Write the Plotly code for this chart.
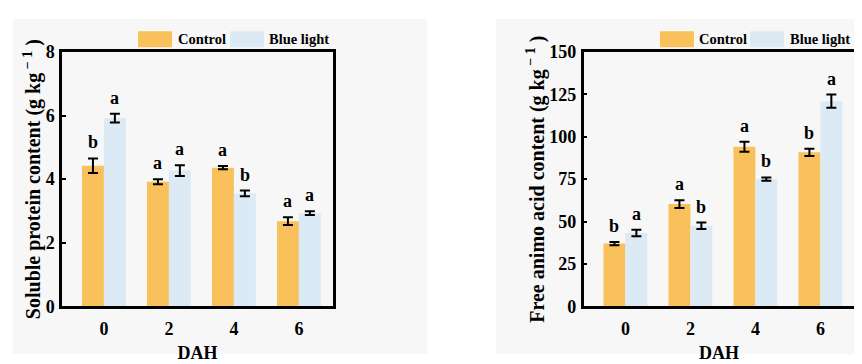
import plotly.graph_objects as go

# ---- data ----
dah = [0, 2, 4, 6]
dah_labels = ["0", "2", "4", "6"]

protein_control = [4.42, 3.92, 4.36, 2.68]
protein_control_err = [0.23, 0.08, 0.05, 0.12]
protein_blue = [5.92, 4.27, 3.55, 2.93]
protein_blue_err = [0.14, 0.17, 0.09, 0.06]
protein_letters_control = ["b", "a", "a", "a"]
protein_letters_blue = ["a", "a", "b", "a"]

amino_control = [37.0, 60.3, 94.1, 90.8]
amino_control_err = [1.0, 2.3, 2.9, 2.2]
amino_blue = [43.3, 47.5, 75.0, 121.0]
amino_blue_err = [1.9, 1.9, 1.0, 3.9]
amino_letters_control = ["b", "a", "a", "b"]
amino_letters_blue = ["a", "b", "b", "a"]

series_names = ["Control", "Blue light"]
protein_ticks = [0, 2, 4, 6, 8]
amino_ticks = [0, 25, 50, 75, 100, 125, 150]

# ---- style ----
OFF = 8  # page body margin
W, H = 862 - OFF, 364 - OFF
FONT = "Liberation Serif, Times New Roman, serif"
C_CTRL = "#F8C15C"
C_BLUE = "#DBEAF4"
BARGAP = 0.325
HALF = (1 - BARGAP) * 2 / 4  # half bar offset in x units

def px(x):
    return (x - OFF) / W

def py(y):
    return 1 - (y - OFF) / H

fig = go.Figure()

def add_panel(xa, ya, ctrl, ctrl_err, blue, blue_err):
    fig.add_trace(go.Bar(x=dah, y=ctrl, name=series_names[0], marker=dict(color=C_CTRL, line=dict(width=0)),
                         error_y=dict(type="data", array=ctrl_err, color="black", thickness=2, width=5),
                         xaxis=xa, yaxis=ya, showlegend=False))
    fig.add_trace(go.Bar(x=dah, y=blue, name=series_names[1], marker=dict(color=C_BLUE, line=dict(width=0)),
                         error_y=dict(type="data", array=blue_err, color="black", thickness=2, width=5),
                         xaxis=xa, yaxis=ya, showlegend=False))

add_panel("x", "y", protein_control, protein_control_err, protein_blue, protein_blue_err)
add_panel("x2", "y2", amino_control, amino_control_err, amino_blue, amino_blue_err)

annotations = []
def add_letters(xref, yref, vals, errs, letters, sign):
    for d, v, e, t in zip(dah, vals, errs, letters):
        annotations.append(dict(x=d + sign * HALF, y=v + e, xref=xref, yref=yref, text=t, showarrow=False,
                                yanchor="bottom", xanchor="center", yshift=4,
                                font=dict(family=FONT, size=18, color="black", weight="bold")))

add_letters("x", "y", protein_control, protein_control_err, protein_letters_control, -1)
add_letters("x", "y", protein_blue, protein_blue_err, protein_letters_blue, 1)
add_letters("x2", "y2", amino_control, amino_control_err, amino_letters_control, -1)
add_letters("x2", "y2", amino_blue, amino_blue_err, amino_letters_blue, 1)

# legends drawn as patches + text
shapes = []
shapes.append(dict(type="rect", xref="paper", yref="paper", x0=px(13), x1=px(427), y0=py(364), y1=py(9),
                   fillcolor="#F7F7F7", line=dict(width=0), layer="below"))
shapes.append(dict(type="rect", xref="paper", yref="paper", x0=px(496), x1=px(862), y0=py(364), y1=py(9),
                   fillcolor="#F7F7F7", line=dict(width=0), layer="below"))

def legend(x_ctrl, x_ctrl_txt, x_blue, x_blue_txt):
    for (x0, col) in [(x_ctrl, C_CTRL), (x_blue, C_BLUE)]:
        shapes.append(dict(type="rect", xref="paper", yref="paper", x0=px(x0), x1=px(x0 + 34),
                           y0=py(39), y1=py(22), fillcolor=col, line=dict(width=0)))
    for (xt, name) in [(x_ctrl_txt, series_names[0]), (x_blue_txt, series_names[1])]:
        annotations.append(dict(x=px(xt), y=py(30.5), xref="paper", yref="paper", text=name, showarrow=False,
                                xanchor="left", yanchor="middle",
                                font=dict(family=FONT, size=14.5, color="black", weight="bold")))

legend(138, 176, 230, 267)
legend(660, 697, 750, 788)

tickfont = dict(family=FONT, size=18, color="black", weight="bold")
titlefont = dict(family=FONT, size=20, color="black", weight="bold")

common_x = dict(tickmode="array", tickvals=dah, ticktext=dah_labels, range=[-1.29, 7.05],
                showline=True, mirror=True, linecolor="black", linewidth=2.5,
                ticks="outside", ticklen=4, tickcolor="rgba(0,0,0,0)",
                tickfont=tickfont, showgrid=False, zeroline=False,
                title=dict(text="DAH", font=dict(family=FONT, size=18, color="black", weight="bold"), standoff=9))
common_y = dict(showline=True, mirror=True, linecolor="black", linewidth=2.5, ticks="inside", ticklen=4,
                tickwidth=2, tickcolor="black", tickfont=tickfont, showgrid=False, zeroline=False,
                tickmode="array", ticklabelstandoff=1)

ydom = [py(313.5), py(44)]
fig.update_layout(
    width=W, height=H, margin=dict(l=0, r=0, t=0, b=0),
    paper_bgcolor="white", plot_bgcolor="rgba(0,0,0,0)",
    barmode="group", bargap=BARGAP, bargroupgap=0,
    xaxis=dict(domain=[px(62), px(333)], anchor="y", **common_x),
    yaxis=dict(domain=ydom, anchor="x", range=[0, 8], tickvals=protein_ticks,
               title=dict(text="Soluble protein content (g kg<sup> − 1</sup> )", font=titlefont, standoff=0),
               **common_y),
    xaxis2=dict(domain=[px(583.5), px(854.5)], anchor="y2", **common_x),
    yaxis2=dict(domain=ydom, anchor="x2", range=[0, 150], tickvals=amino_ticks,
                title=dict(text="Free animo acid content (g kg<sup> − 1</sup> )", font=titlefont, standoff=0),
                **common_y),
    annotations=annotations, shapes=shapes,
)

fig.write_html("out.html")
